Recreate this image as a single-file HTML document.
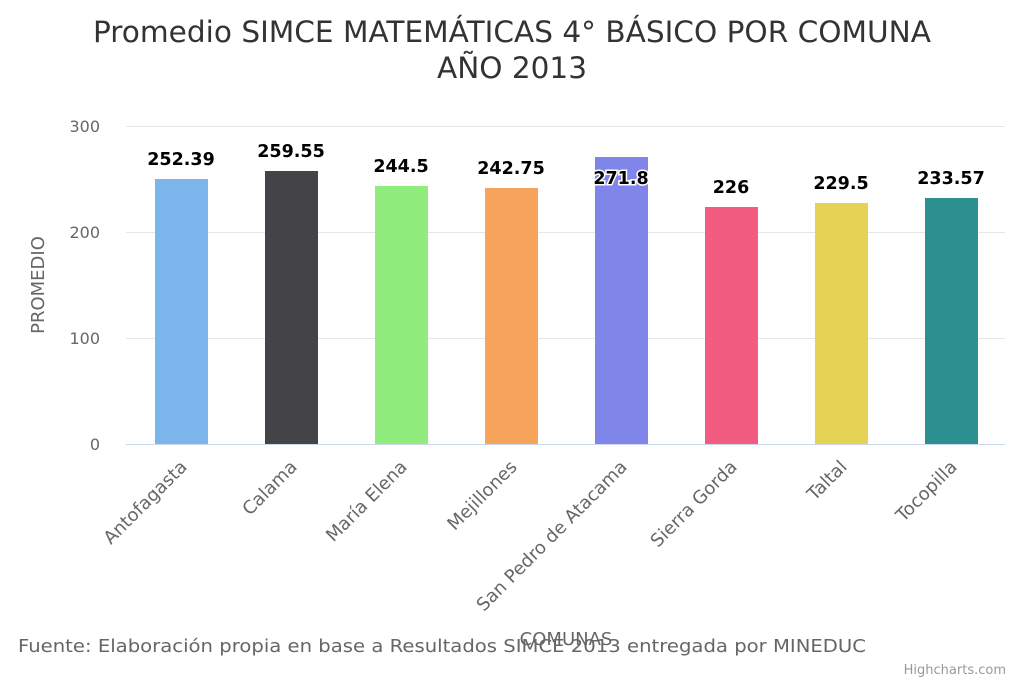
<!DOCTYPE html>
<html><head><meta charset="utf-8"><style>body{margin:0;background:#fff}svg{display:block}text{font-family:"DejaVu Sans","Liberation Sans",sans-serif}</style></head><body>
<svg width="1024" height="683" xmlns="http://www.w3.org/2000/svg">
<rect width="1024" height="683" fill="#fff"/>
<text x="512" y="42" text-anchor="middle" font-size="29" fill="#333" textLength="838" lengthAdjust="spacingAndGlyphs">Promedio SIMCE MATEMÁTICAS 4° BÁSICO POR COMUNA</text>
<text x="512" y="78" text-anchor="middle" font-size="29" fill="#333" textLength="150" lengthAdjust="spacingAndGlyphs">AÑO 2013</text>
<g stroke="#e6e6e6" stroke-width="1">
<line x1="126" x2="1005" y1="126.5" y2="126.5"/><line x1="126" x2="1005" y1="232.5" y2="232.5"/><line x1="126" x2="1005" y1="338.5" y2="338.5"/>
</g>
<line x1="126" x2="1005" y1="444.5" y2="444.5" stroke="#ccd6eb"/>
<g font-size="16" fill="#666" text-anchor="end">
<text x="100" y="132">300</text><text x="100" y="238">200</text><text x="100" y="344">100</text><text x="100" y="450">0</text>
</g>
<text transform="translate(44,285) rotate(-90)" text-anchor="middle" font-size="18" fill="#666">PROMEDIO</text>
<g>
<rect x="155" y="179" width="53" height="265" fill="#7cb5ec"/>
<rect x="265" y="171" width="53" height="273" fill="#434348"/>
<rect x="375" y="186" width="53" height="258" fill="#90ed7d"/>
<rect x="485" y="188" width="53" height="256" fill="#f7a35c"/>
<rect x="595" y="157" width="53" height="287" fill="#8085e9"/>
<rect x="705" y="207" width="53" height="237" fill="#f15c80"/>
<rect x="815" y="203" width="53" height="241" fill="#e4d354"/>
<rect x="925" y="198" width="53" height="246" fill="#2b908f"/>
</g>
<g font-size="17.5" font-weight="bold" fill="#000" text-anchor="middle">
<text x="181" y="165">252.39</text><text x="291" y="157">259.55</text><text x="401" y="172">244.5</text><text x="511" y="174">242.75</text>
<text x="621" y="184" stroke="#fff" stroke-width="3" paint-order="stroke">271.8</text>
<text x="731" y="193">226</text><text x="841" y="189">229.5</text><text x="951" y="184">233.57</text>
</g>
<g font-size="18" fill="#666" text-anchor="end">
<text transform="translate(188,468) rotate(-45)">Antofagasta</text>
<text transform="translate(298,468) rotate(-45)">Calama</text>
<text transform="translate(408,468) rotate(-45)">María Elena</text>
<text transform="translate(518,468) rotate(-45)">Mejillones</text>
<text transform="translate(628,468) rotate(-45)">San Pedro de Atacama</text>
<text transform="translate(738,468) rotate(-45)">Sierra Gorda</text>
<text transform="translate(848,468) rotate(-45)">Taltal</text>
<text transform="translate(958,468) rotate(-45)">Tocopilla</text>
</g>
<text x="566" y="645" text-anchor="middle" font-size="18" fill="#666">COMUNAS</text>
<text x="18" y="652" font-size="18" fill="#666" textLength="848" lengthAdjust="spacingAndGlyphs">Fuente: Elaboración propia en base a Resultados SIMCE 2013 entregada por MINEDUC</text>
<text x="1006" y="674" text-anchor="end" font-size="13" fill="#999">Highcharts.com</text>
</svg>
</body></html>
